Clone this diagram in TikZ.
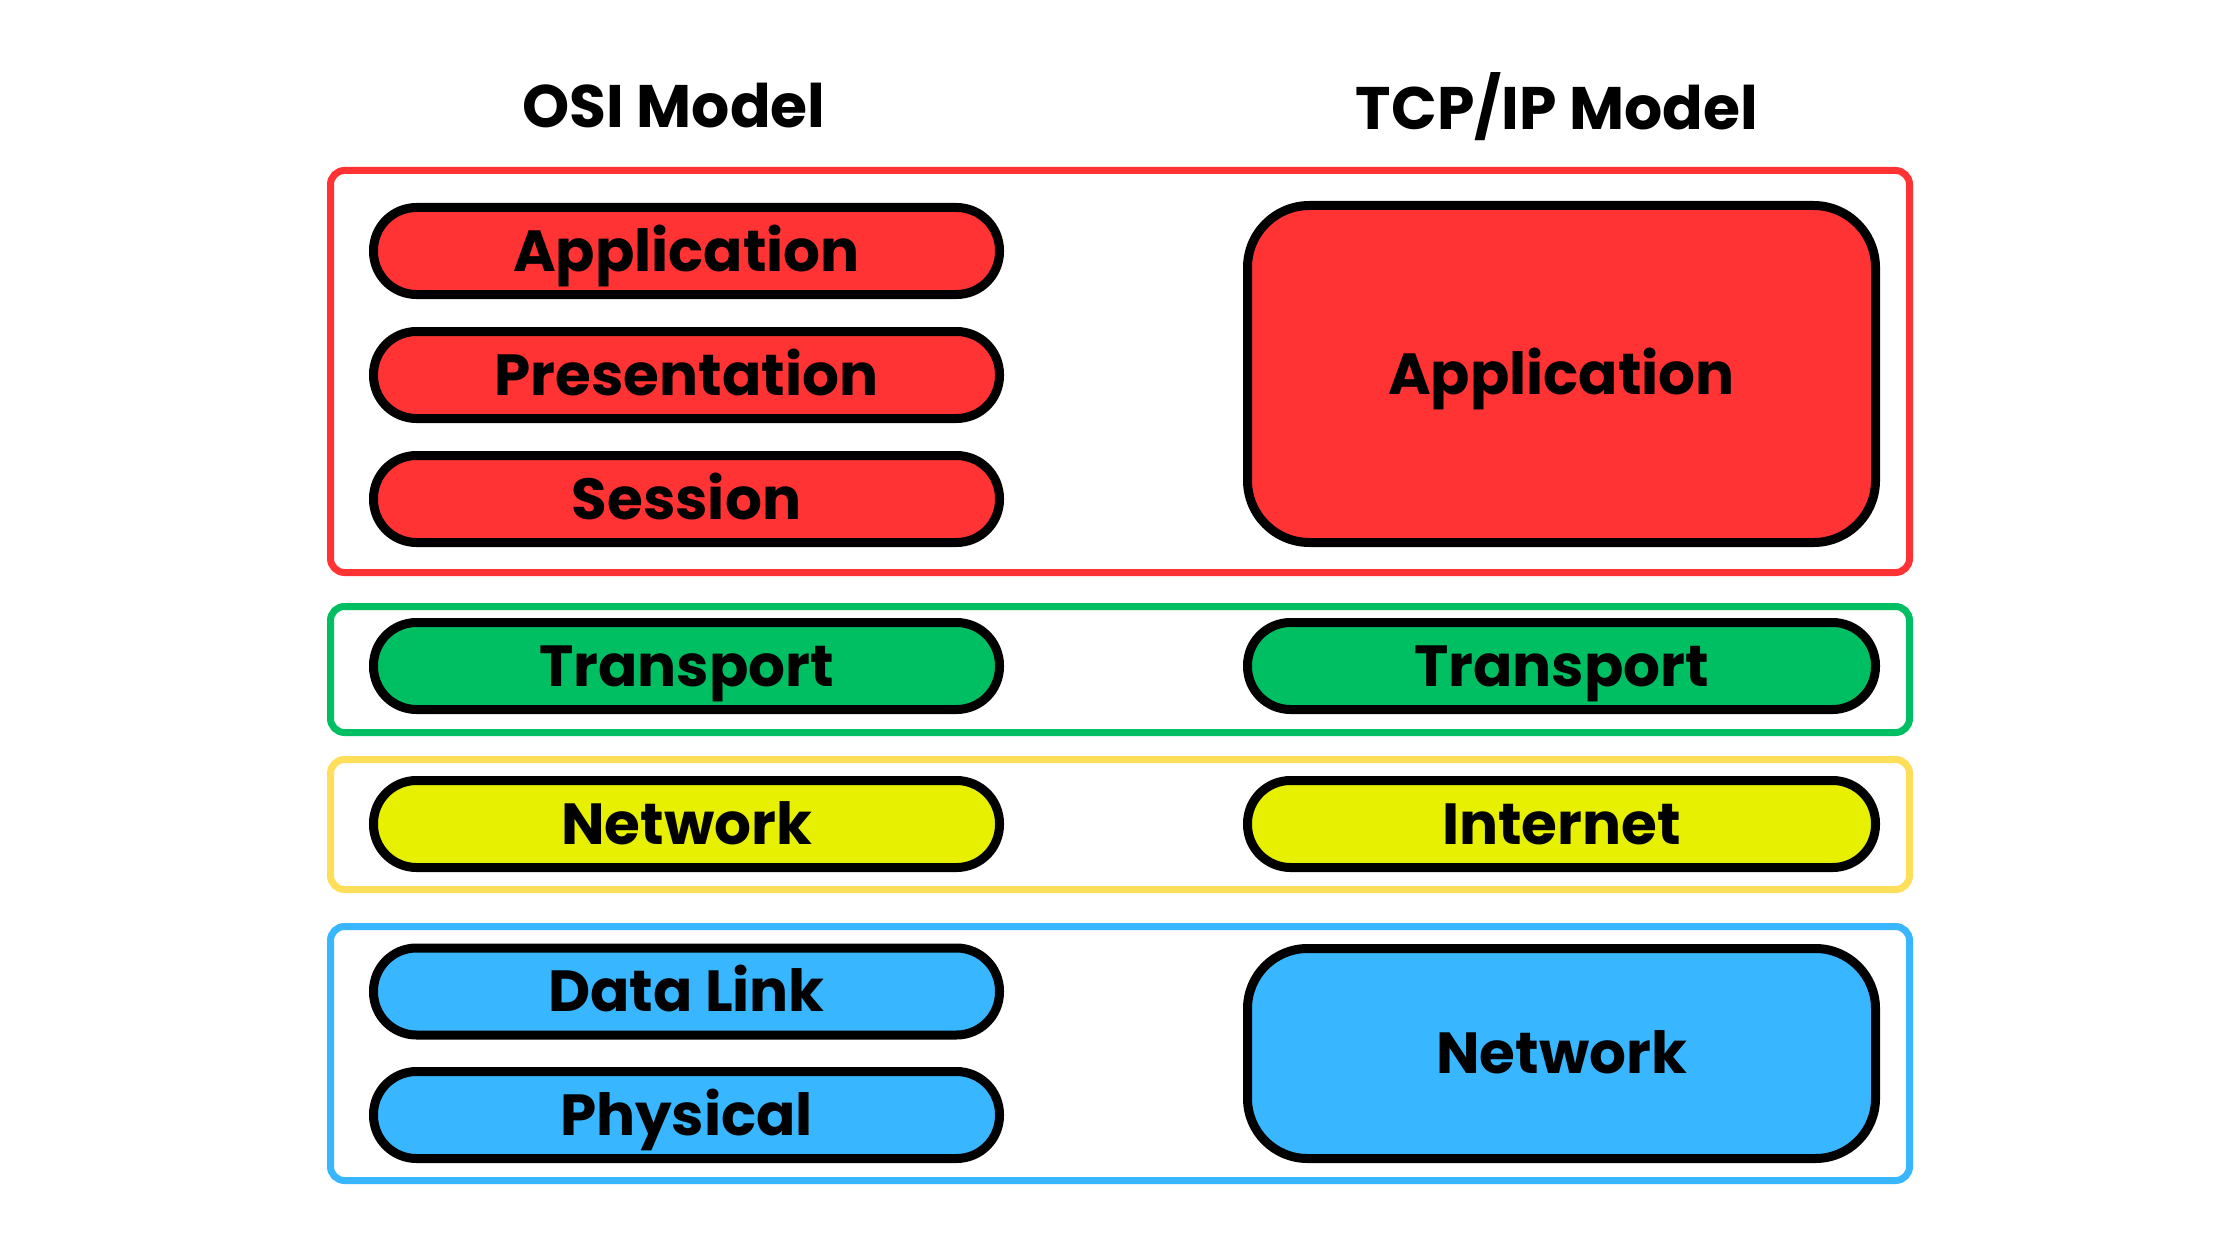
\documentclass[tikz,border=0pt]{standalone}
\usepackage{fontspec}
\setmainfont{Poppins}
\definecolor{cred}{HTML}{FF3333}
\definecolor{cgreen}{HTML}{00BF63}
\definecolor{cyel}{HTML}{E6F000}
\definecolor{cyelline}{HTML}{FFDE59}
\definecolor{cblue}{HTML}{38B6FF}
\begin{document}
\begin{tikzpicture}[x=1pt,y=-1pt,
  group/.style={draw, line width=7pt, rounded corners=14pt, minimum width=1579pt, inner sep=0pt},
  layer/.style={draw=black, line width=9pt, inner sep=0pt, font=\fontsize{58}{64}\selectfont\bfseries, text height=40.4pt, text depth=0pt},
  pill/.style={layer, rounded corners=43pt, minimum width=626pt, minimum height=87pt},
  tcppill/.style={layer, rounded corners=43pt, minimum width=628pt, minimum height=87pt},
  title/.style={inner sep=0pt, font=\fontsize{60}{66}\selectfont\bfseries, text height=41.8pt, text depth=0pt}
]
\useasboundingbox[fill=white] (0,0) rectangle (2240,1260);
% titles
\node[title] (osiT) at (674,107) {OSI Model};
\node[title] (tcpT) at (1557,109) {TCP/IP Model};
% group frames
\node[group, draw=cred, minimum height=402pt] (gApp) at (1120,371.5) {};
\node[group, draw=cgreen, minimum height=126pt] (gTra) at (1120,669.5) {};
\node[group, draw=cyelline, minimum height=130pt] (gNet) at (1120,824.5) {};
\node[group, draw=cblue, minimum height=254pt] (gLnk) at (1120,1053.5) {};
% OSI layers
\node[pill, fill=cred] (oApp) at (686.5,251) {Application};
\node[pill, fill=cred] (oPre) at (686.5,375) {Presentation};
\node[pill, fill=cred] (oSes) at (686.5,499) {Session};
\node[pill, fill=cgreen] (oTra) at (686.5,666) {Transport};
\node[pill, fill=cyel] (oNet) at (686.5,824) {Network};
\node[pill, fill=cblue] (oDat) at (686.5,991.5) {Data Link};
\node[pill, fill=cblue] (oPhy) at (686.5,1115) {Physical};
% TCP/IP layers
\node[layer, fill=cred, rounded corners=62pt, minimum width=628pt, minimum height=337pt] (tApp) at (1561.5,374) {Application};
\node[tcppill, fill=cgreen] (tTra) at (1561.5,666) {Transport};
\node[tcppill, fill=cyel] (tInt) at (1561.5,824) {Internet};
\node[layer, fill=cblue, rounded corners=60pt, minimum width=628pt, minimum height=210pt] (tNet) at (1561.5,1053.5) {Network};
\end{tikzpicture}
\end{document}
